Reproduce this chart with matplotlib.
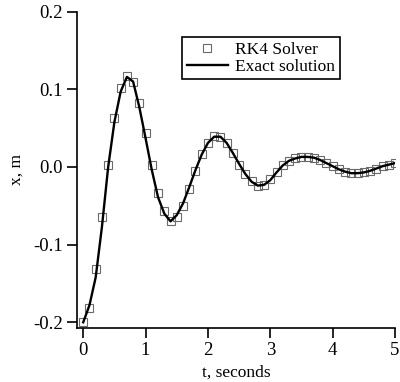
import matplotlib
matplotlib.use("Agg")
import matplotlib.pyplot as plt

plt.rcParams['font.family'] = ['Liberation Serif', 'DejaVu Serif']
plt.rcParams['axes.unicode_minus'] = False

t = [0.0, 0.1, 0.2, 0.3, 0.4, 0.5, 0.6, 0.7, 0.8, 0.9,
     1.0, 1.1, 1.2, 1.3, 1.4, 1.5, 1.6, 1.7, 1.8, 1.9,
     2.0, 2.1, 2.2, 2.3, 2.4, 2.5, 2.6, 2.7, 2.8, 2.9,
     3.0, 3.1, 3.2, 3.3, 3.4, 3.5, 3.6, 3.7, 3.8, 3.9,
     4.0, 4.1, 4.2, 4.3, 4.4, 4.5, 4.6, 4.7, 4.8, 4.9, 5.0]

rk4 = [-0.200, -0.181, -0.132, -0.064, 0.003, 0.063, 0.102, 0.117, 0.109, 0.082,
       0.044, 0.003, -0.033, -0.057, -0.069, -0.064, -0.050, -0.028, -0.005, 0.017,
       0.031, 0.040, 0.039, 0.031, 0.018, 0.003, -0.009, -0.018, -0.024, -0.023,
       -0.016, -0.006, 0.003, 0.008, 0.011, 0.013, 0.013, 0.012, 0.009, 0.005,
       0.001, -0.003, -0.006, -0.008, -0.008, -0.007, -0.005, -0.002, 0.001, 0.003, 0.005]

exact = [-0.200, -0.178, -0.142, -0.077, 0.000, 0.058, 0.097, 0.116, 0.110, 0.077,
         0.037, -0.004, -0.039, -0.060, -0.070, -0.062, -0.047, -0.026, -0.004, 0.016,
         0.031, 0.039, 0.039, 0.031, 0.018, 0.004, -0.009, -0.019, -0.024, -0.023,
         -0.017, -0.007, 0.002, 0.008, 0.011, 0.013, 0.013, 0.012, 0.009, 0.005,
         0.001, -0.003, -0.006, -0.008, -0.008, -0.007, -0.005, -0.002, 0.001, 0.003, 0.005]

xticks = [0, 1, 2, 3, 4, 5]
xtick_labels = ['0', '1', '2', '3', '4', '5']
yticks = [-0.2, -0.1, 0.0, 0.1, 0.2]
ytick_labels = ['-0.2', '-0.1', '0.0', '0.1', '0.2']

fig = plt.figure(figsize=(4.0, 3.82), dpi=100)
ax = fig.add_axes([77/400, (382-327.7)/382, 318/400, 316/382])

ax.plot(t, rk4, linestyle='none', marker='s', markersize=5.5,
        markerfacecolor='none', markeredgecolor='#6a6a6a', markeredgewidth=0.8,
        label='RK4 Solver', zorder=2)
ax.plot(t, exact, color='black', linewidth=1.7, label='Exact solution', zorder=3)

ax.set_xlim(-0.1, 5.0)
ax.set_ylim(-0.207, 0.2)
ax.set_xticks(xticks)
ax.set_xticklabels(xtick_labels)
ax.set_yticks(yticks)
ax.set_yticklabels(ytick_labels)

for s in ['top', 'right']:
    ax.spines[s].set_visible(False)
for s in ['left', 'bottom']:
    ax.spines[s].set_linewidth(1.2)

ax.tick_params(direction='out', length=7, width=1.2, labelsize=13.5, pad=3)
ax.set_xlabel('t, seconds', fontsize=12.5, labelpad=4)
ax.set_ylabel('x, m', fontsize=12.5, labelpad=6)

leg = ax.legend(loc='upper left', bbox_to_anchor=(0.331, 0.919), borderaxespad=0,
                fontsize=12.5, frameon=True, fancybox=False, shadow=False,
                handlelength=2.4, handletextpad=0.4, labelspacing=0.05,
                borderpad=0.25, framealpha=1)
leg.get_frame().set_edgecolor('black')
leg.get_frame().set_linewidth(1.2)

fig.savefig('out.png', dpi=100)
